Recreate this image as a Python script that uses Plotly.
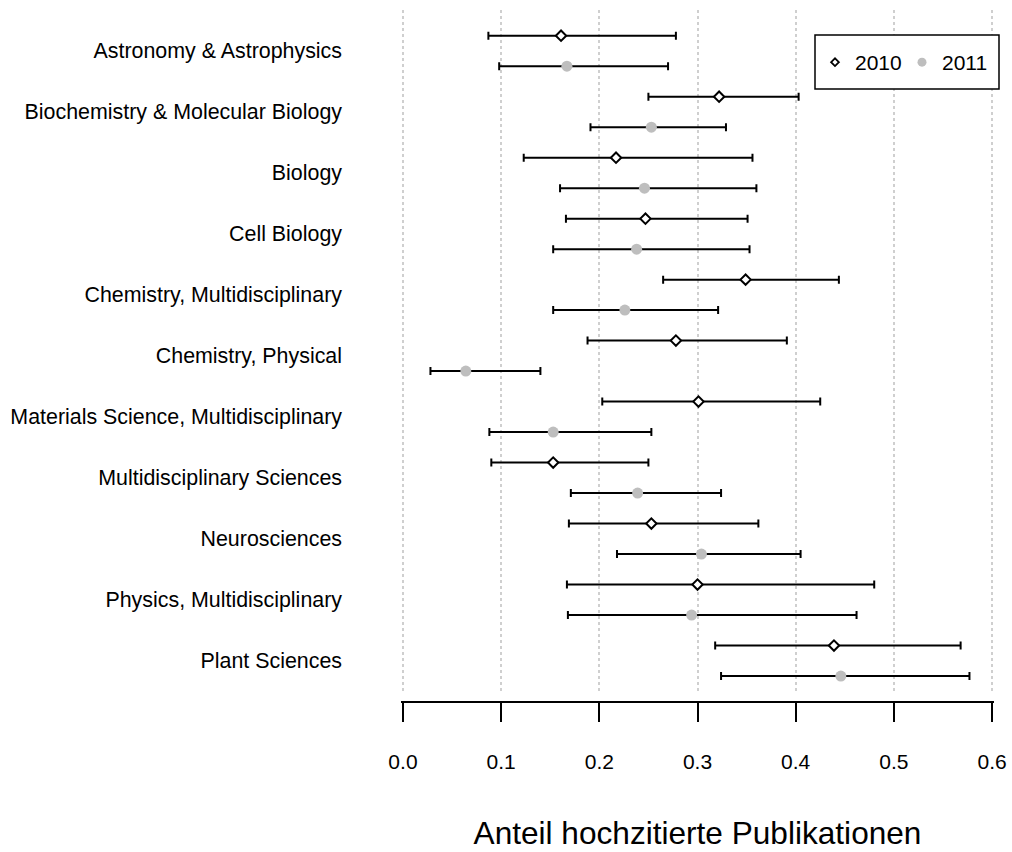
import plotly.graph_objects as go

categories = [
    "Astronomy & Astrophysics",
    "Biochemistry & Molecular Biology",
    "Biology",
    "Cell Biology",
    "Chemistry, Multidisciplinary",
    "Chemistry, Physical",
    "Materials Science, Multidisciplinary",
    "Multidisciplinary Sciences",
    "Neurosciences",
    "Physics, Multidisciplinary",
    "Plant Sciences",
]

est_2010 = [0.161, 0.322, 0.217, 0.247, 0.349, 0.278, 0.301, 0.153, 0.253, 0.300, 0.439]
low_2010 = [0.087, 0.250, 0.123, 0.166, 0.265, 0.188, 0.203, 0.090, 0.169, 0.167, 0.318]
high_2010 = [0.278, 0.403, 0.356, 0.351, 0.444, 0.391, 0.425, 0.250, 0.362, 0.480, 0.568]

est_2011 = [0.167, 0.253, 0.246, 0.238, 0.226, 0.064, 0.153, 0.239, 0.304, 0.294, 0.446]
low_2011 = [0.098, 0.191, 0.160, 0.153, 0.153, 0.028, 0.088, 0.171, 0.218, 0.168, 0.324]
high_2011 = [0.270, 0.329, 0.360, 0.353, 0.321, 0.140, 0.253, 0.324, 0.405, 0.462, 0.577]

x_ticks = [0.0, 0.1, 0.2, 0.3, 0.4, 0.5, 0.6]
x_title = "Anteil hochzitierte Publikationen"
series_names = ["2010", "2011"]

FONT = "Liberation Sans, Arial, sans-serif"
GREY = "#BEBEBE"

pos_2010 = [2 * k + 1 for k in range(len(categories))]
pos_2011 = [2 * k + 2 for k in range(len(categories))]
pos_label = [2 * k + 1.5 for k in range(len(categories))]

fig = go.Figure()

fig.add_trace(go.Scatter(
    x=est_2010, y=pos_2010, mode="markers", name=series_names[0], showlegend=False,
    marker=dict(size=8, symbol="diamond", color="white", line=dict(color="black", width=2)),
    error_x=dict(type="data", symmetric=False,
                 array=[h - e for h, e in zip(high_2010, est_2010)],
                 arrayminus=[e - l for e, l in zip(est_2010, low_2010)],
                 color="black", thickness=2, width=4),
))
fig.add_trace(go.Scatter(
    x=est_2011, y=pos_2011, mode="markers", name=series_names[1], showlegend=False,
    marker=dict(size=11, symbol="circle", color=GREY, line=dict(width=0)),
    error_x=dict(type="data", symmetric=False,
                 array=[h - e for h, e in zip(high_2011, est_2011)],
                 arrayminus=[e - l for e, l in zip(est_2011, low_2011)],
                 color="black", thickness=2, width=4),
))
# legend-only entries (smaller symbols, as in the reference key)
fig.add_trace(go.Scatter(
    x=[None], y=[None], mode="markers", name=series_names[0],
    marker=dict(size=6, symbol="diamond", color="white", line=dict(color="black", width=1.8)),
))
fig.add_trace(go.Scatter(
    x=[None], y=[None], mode="markers", name=series_names[1],
    marker=dict(size=9, symbol="circle", color=GREY, line=dict(width=0)),
))

L, R, T, B = 401, 18, 10, 150
PW = 1012 - L - R
PH = 852 - T - B


def px_x(px):
    return (px - L) / PW


def px_y(py):
    return (852 - B - py) / PH


fig.update_layout(
    width=1012, height=852,
    margin=dict(l=L, r=R, t=T, b=B, autoexpand=False),
    plot_bgcolor="white", paper_bgcolor="white",
    font=dict(family=FONT, size=21, color="black"),
    showlegend=True,
    legend=dict(
        orientation="h", x=px_x(815), xanchor="left", y=px_y(62.5), yanchor="middle",
        borderwidth=0, bgcolor="rgba(0,0,0,0)",
        font=dict(size=21), itemwidth=30,
        entrywidth=42, entrywidthmode="pixels",
    ),
    shapes=[dict(
        type="rect", xref="paper", yref="paper",
        x0=px_x(815), x1=px_x(999), y0=px_y(89), y1=px_y(35),
        line=dict(color="black", width=1.5), fillcolor="white", layer="above",
    )],
    xaxis=dict(
        range=[-0.002, 0.602], tickvals=x_ticks,
        ticktext=[f"{v:.1f}" for v in x_ticks],
        showgrid=True, gridcolor="#CFCFCF", gridwidth=1.5, griddash="dot",
        zeroline=False, showline=True, linecolor="black", linewidth=1.5,
        ticks="outside", ticklen=19, tickwidth=1.5, tickcolor="black",
        ticklabelstandoff=22, automargin=False,
        anchor="free", position=0,
        title=dict(text=x_title, font=dict(size=31.6), standoff=49),
    ),
    yaxis=dict(
        domain=[9 / PH, 1],
        range=[22.557, 0.157],
        tickvals=pos_label, ticktext=categories,
        tickfont=dict(size=21.4), automargin=False,
        showgrid=False, zeroline=False, showline=False,
        ticks="", ticklabelstandoff=58,
    ),
)

fig.write_html("out.html")
